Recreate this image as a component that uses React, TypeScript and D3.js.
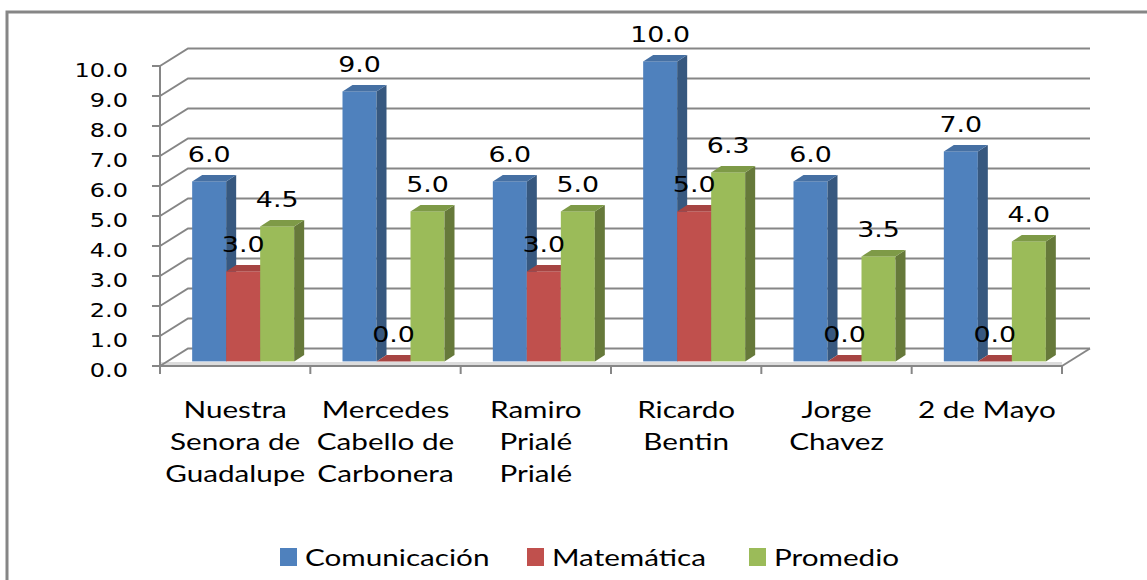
import React from "react";
import * as d3 from "d3";

const categories = [
  "Nuestra|Senora de|Guadalupe",
  "Mercedes|Cabello de|Carbonera",
  "Ramiro|Prialé|Prialé",
  "Ricardo|Bentin",
  "Jorge|Chavez",
  "2 de Mayo",
];
const seriesNames = ["Comunicación", "Matemática", "Promedio"];
const comunicacion = [6.0, 9.0, 6.0, 10.0, 6.0, 7.0];
const matematica = [3.0, 0.0, 3.0, 5.0, 0.0, 0.0];
const promedio = [4.5, 5.0, 5.0, 6.3, 3.5, 4.0];
const yTicks = [0, 1, 2, 3, 4, 5, 6, 7, 8, 9, 10];

const fronts = ["#4F81BD", "#C0504D", "#9BBB59"];
const sides = ["#37587F", "#8C3A38", "#66793A"];
const tops = ["#4670A3", "#A64442", "#7E9A47"];

const W = 1147;
const H = 580;
const GRID = "#868686";
const DX = 28;
const DY = -17.5;
const BX = 8; // bar front plane offset
const BY = -4.6;
const BDX = 10; // bar depth
const BDY = -6.3;
const BAR_W = 34;
const SX = 1.22;

function SText(props: {
  x: number;
  y: number;
  anchor?: string;
  size: number;
  family: string;
  children: any;
  sx?: number;
}) {
  const { x, y, anchor = "middle", size, family, children, sx = SX } = props;
  return (
    <text
      transform={`translate(${x},${y}) scale(${sx},1)`}
      textAnchor={anchor}
      fontSize={size}
      fontFamily={family}
      fill="#000"
    >
      {children}
    </text>
  );
}

export default function App() {
  const y = d3.scaleLinear().domain([0, 10]).range([366, 66]);
  const x = d3.scaleBand<number>().domain(d3.range(categories.length)).range([160, 1062]).padding(0);
  const series = [comunicacion, matematica, promedio];
  const x0 = 160;
  const x1 = 1062;
  const y0 = y(0);

  const bars: any[] = [];
  const labels: any[] = [];
  categories.forEach((_, i) => {
    const cx = (x(i) as number) + x.bandwidth() / 2 + BX;
    const start = cx - (BAR_W * 3) / 2;
    series.forEach((s, k) => {
      const v = s[i];
      const lx = start + k * BAR_W;
      const rx = lx + BAR_W;
      const top = y(v) + BY;
      const bot = y0 + BY;
      bars.push(
        <g key={`b${i}-${k}`}>
          <rect x={lx} y={top} width={BAR_W} height={bot - top} fill={fronts[k]} />
          <polygon
            points={`${rx},${top} ${rx + BDX},${top + BDY} ${rx + BDX},${bot + BDY} ${rx},${bot}`}
            fill={sides[k]}
          />
          <polygon
            points={`${lx},${top} ${lx + BDX},${top + BDY} ${rx + BDX},${top + BDY} ${rx},${top}`}
            fill={tops[k]}
          />
        </g>
      );
      labels.push(
        <SText key={`l${i}-${k}`} x={lx + BAR_W / 2} y={top - 19.5} size={22} family="DejaVu Sans">
          {v.toFixed(1)}
        </SText>
      );
    });
  });

  return (
    <svg
      width={W}
      height={H}
      style={{ position: "absolute", left: 0, top: 0, background: "#fff" }}
    >
      <rect x={7} y={12} width={W + 20} height={H + 20} fill="#fff" stroke={GRID} strokeWidth={3} />
      {/* floor band */}
      <polygon
        points={`${x0},${y0 - 4} ${x1},${y0 - 4} ${x1},${y0} ${x0},${y0}`}
        fill="#dcdcdc"
      />
      {/* gridlines on walls */}
      {yTicks.map((t) => (
        <g key={`g${t}`}>
          <polyline
            points={`${x0},${y(t)} ${x0 + DX},${y(t) + DY} ${x1 + DX},${y(t) + DY}`}
            fill="none"
            stroke={GRID}
            strokeWidth={2}
          />
          <line x1={x0 - 8} x2={x0} y1={y(t)} y2={y(t)} stroke={GRID} strokeWidth={2} />
          <SText x={128} y={y(t) + 11} anchor="end" size={20} family="DejaVu Sans" sx={1.2}>
            {t.toFixed(1)}
          </SText>
        </g>
      ))}
      {/* axis lines */}
      <line x1={x0} x2={x0} y1={y(10)} y2={y0 + 8} stroke={GRID} strokeWidth={2} />
      <line x1={x0 - 8} x2={x1} y1={y0} y2={y0} stroke={GRID} strokeWidth={2} />
      <line x1={x1} x2={x1 + DX} y1={y0} y2={y0 + DY} stroke={GRID} strokeWidth={2} />
      {d3.range(categories.length + 1).map((i) => {
        const xx = i < categories.length ? (x(i) as number) : x1;
        return <line key={`ct${i}`} x1={xx} x2={xx} y1={y0} y2={y0 + 8} stroke={GRID} strokeWidth={2} />;
      })}
      {bars}
      {labels}
      {/* category labels */}
      {categories.map((c, i) => {
        const cx = (x(i) as number) + x.bandwidth() / 2;
        return c.split("|").map((line, j) => (
          <SText key={`c${i}-${j}`} x={cx} y={418 + j * 32} size={23} family="Lato" sx={1.29}>
            {line}
          </SText>
        ));
      })}
      {/* legend */}
      {seriesNames.map((n, k) => {
        const sxs = [280, 527, 749];
        return (
          <g key={`lg${k}`}>
            <rect x={sxs[k]} y={548} width={17} height={18} fill={fronts[k]} />
            <SText x={sxs[k] + 25} y={566} anchor="start" size={23} family="Lato" sx={1.29}>
              {n}
            </SText>
          </g>
        );
      })}
    </svg>
  );
}
